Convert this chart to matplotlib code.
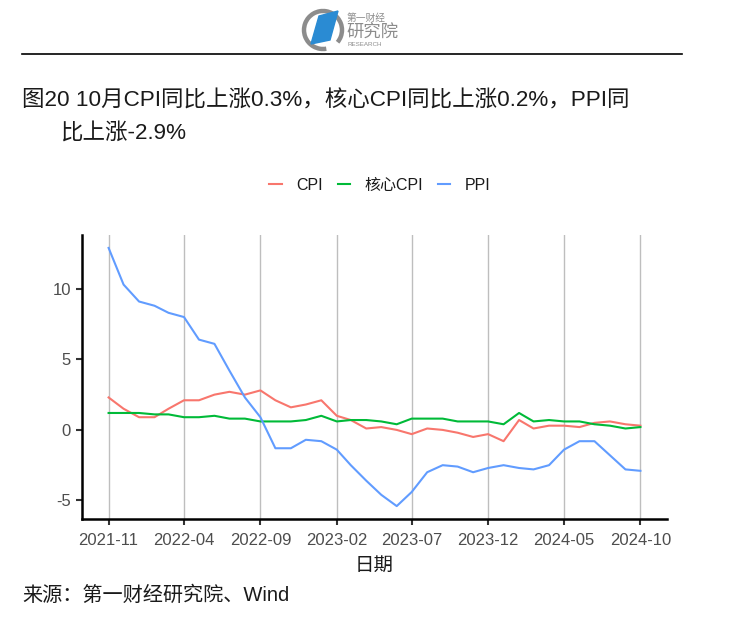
import matplotlib
matplotlib.use('Agg')
import matplotlib.pyplot as plt
import matplotlib.dates as mdates
import numpy as np
import pandas as pd
from matplotlib.lines import Line2D
from matplotlib.patches import Arc, Polygon

plt.rcParams['font.family'] = ['Liberation Sans', 'Noto Sans CJK SC']

# ---------------- data ----------------
months = pd.date_range('2021-11-01', '2024-10-01', freq='MS')
cpi = [2.3, 1.5, 0.9, 0.9, 1.5, 2.1, 2.1, 2.5, 2.7, 2.5, 2.8, 2.1,
       1.6, 1.8, 2.1, 1.0, 0.7, 0.1, 0.2, 0.0, -0.3, 0.1, 0.0, -0.2,
       -0.5, -0.3, -0.8, 0.7, 0.1, 0.3, 0.3, 0.2, 0.5, 0.6, 0.4, 0.3]
core_cpi = [1.2, 1.2, 1.2, 1.1, 1.1, 0.9, 0.9, 1.0, 0.8, 0.8, 0.6, 0.6,
            0.6, 0.7, 1.0, 0.6, 0.7, 0.7, 0.6, 0.4, 0.8, 0.8, 0.8, 0.6,
            0.6, 0.6, 0.4, 1.2, 0.6, 0.7, 0.6, 0.6, 0.4, 0.3, 0.1, 0.2]
ppi = [12.9, 10.3, 9.1, 8.8, 8.3, 8.0, 6.4, 6.1, 4.2, 2.3, 0.9, -1.3,
       -1.3, -0.7, -0.8, -1.4, -2.5, -3.6, -4.6, -5.4, -4.4, -3.0, -2.5, -2.6,
       -3.0, -2.7, -2.5, -2.7, -2.8, -2.5, -1.4, -0.8, -0.8, -1.8, -2.8, -2.9]
series_names = ['CPI', '核心CPI', 'PPI']
tick_labels = ['2021-11', '2022-04', '2022-09', '2023-02', '2023-07',
               '2023-12', '2024-05', '2024-10']
yticks = [-5, 0, 5, 10]

colors = ['#F8766D', '#00BA38', '#619CFF']

W, H = 744, 628
fig = plt.figure(figsize=(W / 100, H / 100), dpi=100)


def fx(x):
    return x / W


def fy(y):
    return 1 - y / H


# overlay for header / footer decorations in pixel coords
ov = fig.add_axes([0, 0, 1, 1])
ov.set_xlim(0, W)
ov.set_ylim(H, 0)
ov.axis('off')

# main plot
ax = fig.add_axes([fx(82), fy(519), fx(667) - fx(82), fy(235) - fy(519)])
lines = []
for vals, c, name in zip([cpi, core_cpi, ppi], colors, series_names):
    ln, = ax.plot(months, vals, color=c, lw=1.5, label=name, solid_joinstyle='round')
    lines.append(ln)

tick_dates = pd.to_datetime([t + '-01' for t in tick_labels])
ax.set_xticks(tick_dates)
ax.set_xticklabels(tick_labels)
x0, x1 = mdates.date2num(months[0]), mdates.date2num(months[-1])
span = x1 - x0
ax.set_xlim(x0 - 0.05 * span, x1 + 0.05 * span)
allv = cpi + core_cpi + ppi
ymin, ymax = min(allv), max(allv)
ys = ymax - ymin
ax.set_ylim(ymin - 0.05 * ys, ymax + 0.05 * ys)
ax.set_yticks(yticks)
ax.set_yticklabels([str(v) for v in yticks])

ax.grid(axis='x', color='#BEBEBE', lw=1.0)
ax.set_axisbelow(True)
for s in ['top', 'right']:
    ax.spines[s].set_visible(False)
for s in ['left', 'bottom']:
    ax.spines[s].set_linewidth(1.8)
    ax.spines[s].set_color('black')
ax.tick_params(axis='both', length=4, width=1.5, color='#333333',
               labelcolor='#4D4D4D', labelsize=12)
ax.tick_params(axis='x', pad=6)
ax.tick_params(axis='y', pad=4)
ax.set_xlabel('日期', fontsize=14, color='#1A1A1A', labelpad=7)

# legend
fig.legend(handles=lines, labels=series_names, loc='center',
           bbox_to_anchor=(fx(380), fy(185)), ncol=3, frameon=False,
           fontsize=11.5, handlelength=0.8, handletextpad=0.9,
           columnspacing=0.9, labelcolor='#1A1A1A')

# title
ov.text(22, 101, '图20 10月CPI同比上涨0.3%，核心CPI同比上涨0.2%，PPI同',
        fontsize=16.2, color='#1A1A1A', va='center', ha='left')
ov.text(60, 133, '比上涨-2.9%', fontsize=16.2, color='#1A1A1A', va='center', ha='left')

# source
ov.text(22, 595, '来源：第一财经研究院、Wind', fontsize=14.5, color='#1A1A1A',
        va='center', ha='left')

# header rule
ov.add_line(Line2D([22, 682], [54, 54], color='black', lw=1.2))

# logo
ov.add_patch(Arc((323, 30), 38, 38, theta1=80, theta2=400, color='#8C8C8C', lw=3.2))
ov.add_patch(Polygon([(311, 44), (319, 16), (338, 11), (330, 40)],
                     closed=True, color='#2A8BD3'))
ov.text(347, 18, '第一财经', fontsize=7, color='#8C8C8C', va='center', ha='left')
ov.text(346, 32, '研究院', fontsize=12.5, color='#8C8C8C', va='center', ha='left')
ov.text(348, 44, 'RESEARCH', fontsize=4.5, color='#8C8C8C', va='center', ha='left')

fig.savefig('out.png', dpi=100)
